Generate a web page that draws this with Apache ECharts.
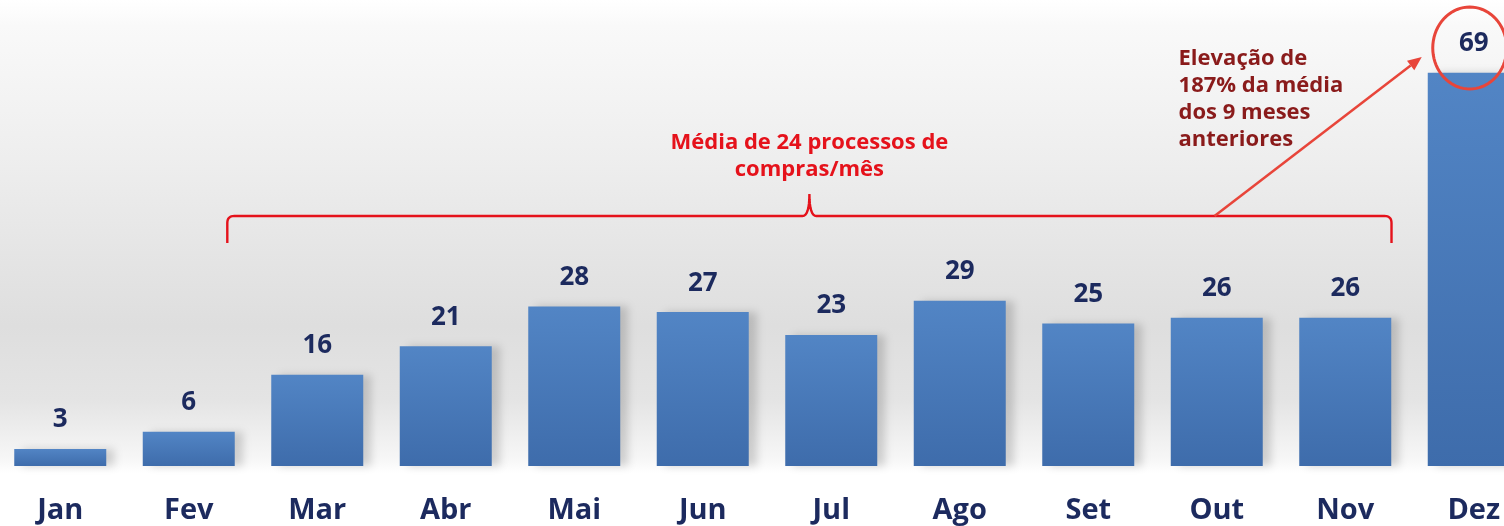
<!DOCTYPE html>
<html>
<head>
<meta charset="utf-8">
<script src="https://cdn.jsdelivr.net/npm/echarts@6/dist/echarts.min.js"></script>
<style>
html,body{margin:0;padding:0;width:1504px;height:526px;overflow:hidden;background:#fff;}
#c{position:absolute;left:-4px;top:0;width:1542px;height:526px;}
</style>
</head>
<body>
<div id="c"></div>
<script>
const months = ['Jan','Fev','Mar','Abr','Mai','Jun','Jul','Ago','Set','Out','Nov','Dez'];
const processos = [3, 6, 16, 21, 28, 27, 23, 29, 25, 26, 26, 69];
const mediaTexto = ['Média de 24 processos de', 'compras/mês'];
const elevacaoTexto = ['Elevação de', '187% da média', 'dos 9 meses', 'anteriores'];

const chart = echarts.init(document.getElementById('c'));
const navy = '#1c2a5e';
chart.setOption({
  backgroundColor: {
    type: 'linear', x: 0, y: 0, x2: 0, y2: 1,
    colorStops: [
      {offset: 0, color: '#ffffff'},
      {offset: 0.05, color: '#f9f9f9'},
      {offset: 0.3, color: '#eeeeee'},
      {offset: 0.62, color: '#dedede'},
      {offset: 0.76, color: '#e4e4e4'},
      {offset: 0.87, color: '#f6f6f6'},
      {offset: 0.9, color: '#ffffff'},
      {offset: 1, color: '#ffffff'}
    ]
  },
  animation: false,
  grid: {left: 0, right: 0, top: 10, bottom: 60},
  xAxis: {
    type: 'category',
    data: months,
    axisLine: {show: false},
    axisTick: {show: false},
    axisLabel: {
      color: navy, fontSize: 29, fontWeight: 'bold',
      fontFamily: 'Open Sans', margin: 30
    }
  },
  yAxis: {
    type: 'value', min: 0, max: 80,
    show: false, splitLine: {show: false}
  },
  series: [{
    type: 'bar',
    data: processos,
    barWidth: 92,
    itemStyle: {
      color: {
        type: 'linear', x: 0, y: 0, x2: 0, y2: 1,
        colorStops: [
          {offset: 0, color: '#5285c5'},
          {offset: 1, color: '#3e6cab'}
        ]
      },
      shadowColor: 'rgba(0,0,0,0.16)',
      shadowBlur: 8,
      shadowOffsetX: 8,
      shadowOffsetY: 0
    },
    label: {
      show: true, position: 'top', distance: 16,
      color: navy, fontSize: 26, fontWeight: 'bold',
      fontFamily: 'Open Sans'
    }
  }]
});

// annotations positioned through the chart's own scales
function px(cat, val) { return chart.convertToPixel({xAxisIndex: 0, yAxisIndex: 0}, [cat, val]); }
function quad(p0, p1, p2, n) {
  const out = [];
  for (let i = 1; i <= n; i++) {
    const t = i / n, u = 1 - t;
    out.push([u*u*p0[0] + 2*u*t*p1[0] + t*t*p2[0], u*u*p0[1] + 2*u*t*p1[1] + t*t*p2[1]]);
  }
  return out;
}
const step = px(1, 0)[0] - px(0, 0)[0];
const pMar = px(2, 0), pNov = px(10, 0), pDez = px(11, processos[11]);
const bx1 = pMar[0] - 0.7 * step;
const bx2 = pNov[0] + 0.36 * step;
const by = 216, byHook = 243, byCusp = 194;
const bmid = (bx1 + bx2) / 2;
const red = '#e5121b';
const arrowRed = '#e8453a';
const r = 7;
let brace = [[bx1, byHook], [bx1, by + r]];
brace = brace.concat(quad([bx1, by + r], [bx1, by], [bx1 + r, by], 8));
brace.push([bmid - 7, by]);
brace = brace.concat(quad([bmid - 7, by], [bmid, by], [bmid, byCusp], 8));
brace = brace.concat(quad([bmid, byCusp], [bmid, by], [bmid + 7, by], 8));
brace.push([bx2 - r, by]);
brace = brace.concat(quad([bx2 - r, by], [bx2, by], [bx2, by + r], 8));
brace.push([bx2, byHook]);

// ellipse around the December value
const ecx = pDez[0] - 4, ecy = 48, erx = 37, ery = 41;
const ell = [];
for (let i = 0; i <= 72; i++) {
  const a = i / 72 * Math.PI * 2;
  ell.push([ecx + erx * Math.cos(a), ecy + ery * Math.sin(a)]);
}

const ax1 = bx1 + 0.848 * (bx2 - bx1), ay1 = by;
const ax2 = pDez[0] - 52, ay2 = 57;
const ang = Math.atan2(ay2 - ay1, ax2 - ax1);
const hl = 14, hw = 6;
const hx = ax2 - hl * Math.cos(ang), hy = ay2 - hl * Math.sin(ang);
const nx = -Math.sin(ang) * hw, ny = Math.cos(ang) * hw;

const textFont = 'bold 22px "Open Sans"';
chart.setOption({
  graphic: [
    {type: 'polyline', z: 100, shape: {points: brace}, style: {fill: null, stroke: red, lineWidth: 2.4}},
    {type: 'text', z: 100, x: bmid, y: 143, style: {text: mediaTexto[0], fill: red, font: textFont, align: 'center', verticalAlign: 'middle'}},
    {type: 'text', z: 100, x: bmid, y: 170, style: {text: mediaTexto[1], fill: red, font: textFont, align: 'center', verticalAlign: 'middle'}},
    {type: 'line', z: 100, shape: {x1: ax1, y1: ay1, x2: hx, y2: hy}, style: {stroke: arrowRed, lineWidth: 2.5}},
    {type: 'polygon', z: 100, shape: {points: [[ax2, ay2], [hx + nx, hy + ny], [hx - nx, hy - ny]]}, style: {fill: arrowRed}},
    {type: 'polyline', z: 100, shape: {points: ell}, style: {fill: null, stroke: arrowRed, lineWidth: 3}},
    {type: 'text', z: 100, x: ax1 - 36, y: 99, style: {text: elevacaoTexto.join('\n'), fill: '#8a1b1b', font: textFont, lineHeight: 27, align: 'left', verticalAlign: 'middle'}}
  ]
});
</script>
</body>
</html>
